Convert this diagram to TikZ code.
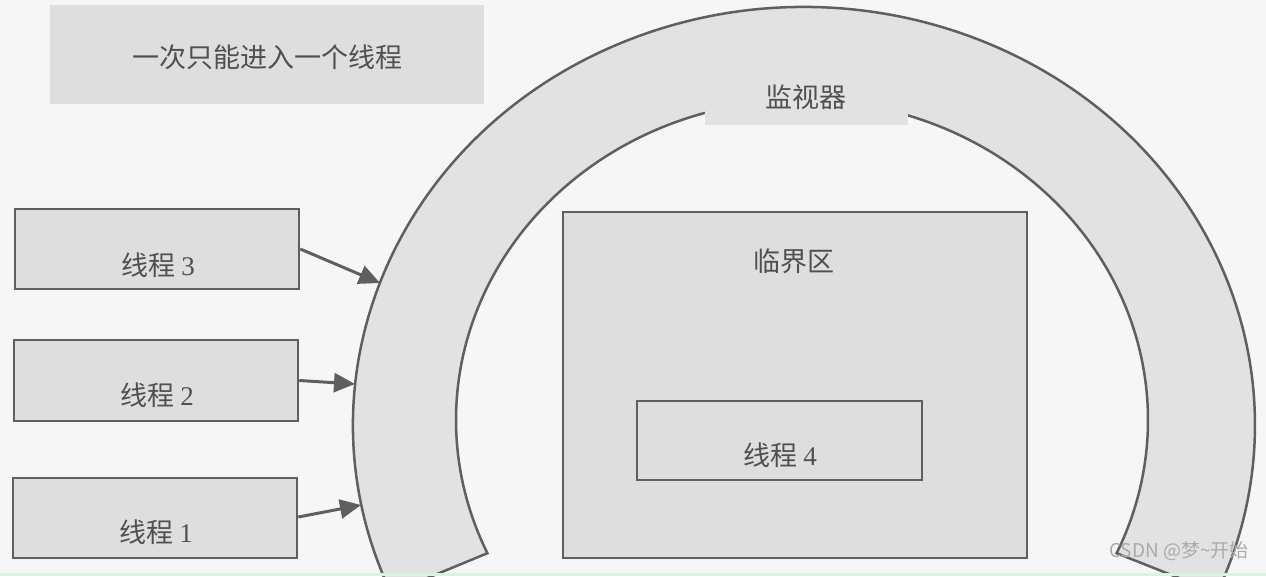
\documentclass[tikz,border=0pt]{standalone}
\usepackage{fontspec}
\setmainfont{Liberation Serif}
\newfontfamily\cjk{Noto Sans CJK SC}
\usetikzlibrary{arrows.meta}
\definecolor{bg}{RGB}{246,246,246}
\definecolor{bandc}{RGB}{226,226,226}
\definecolor{boxc}{RGB}{222,222,222}
\definecolor{linec}{RGB}{95,95,95}
\definecolor{txtc}{RGB}{80,80,80}
\definecolor{wmc}{RGB}{170,170,170}
\definecolor{stripc}{RGB}{220,242,220}
\begin{document}
\begin{tikzpicture}[x=1pt,y=1pt,
  tbox/.style={draw=linec, line width=2.5pt, fill=boxc, inner sep=0pt, minimum width=284pt, minimum height=80pt},
  lbl/.style={text=txtc, font=\fontsize{27}{30}\selectfont\cjk, inner sep=0pt},
  arr/.style={draw=linec, line width=3pt, -{Triangle[length=21pt,width=19pt]}},
  bandline/.style={draw=linec, line width=2.5pt, fill=bandc}]
\useasboundingbox (0,0) rectangle (1266,576);
\clip (0,0) rectangle (1266,576);
\fill[bg] (0,0) rectangle (1266,576);

% top-left note
\node[fill=boxc, inner sep=0pt, minimum width=434pt, minimum height=99pt] (note) at (267,521.5) {};
\node[lbl] (notetxt) at (267.5,519) {一次只能进入一个线程};

% monitor band
\path[bandline]
  ([shift={(802pt,156pt)}]106.3:346pt and 320pt)
  arc[start angle=106.3, end angle=204.6, x radius=346pt, y radius=320pt]
  -- ([shift={(804pt,151pt)}]203.7:451pt and 418pt)
  arc[start angle=203.7, end angle=-23.7, x radius=451pt, y radius=418pt]
  -- ([shift={(802pt,156pt)}]-24.6:346pt and 320pt)
  arc[start angle=-24.6, end angle=72.2, x radius=346pt, y radius=320pt];
\node[fill=bandc, inner sep=0pt, minimum width=203pt, minimum height=47pt] (monbox) at (806.5,474.5) {};
\node[lbl] (montxt) at (806,479) {监视器};

% arrow targets on the outer edge of the band
\coordinate (a3) at (380,293);
\coordinate (a2) at (355,192);
\coordinate (a1) at (361,71);

% critical section
\node[tbox, minimum width=464pt, minimum height=346pt] (crit) at (795,191) {};
\node[lbl] (crittxt) at (794,315) {临界区};
\node[tbox, minimum width=285pt, minimum height=79pt] (t4) at (779.5,135.5) {};
\node[lbl] (t4txt) at (780,121) {线程 {\rmfamily 4}};

% waiting threads
\node[tbox] (t3) at (157,327) {};
\node[lbl] (t3txt) at (158,311) {线程 {\rmfamily 3}};
\node[tbox, minimum height=81pt] (t2) at (156,195.5) {};
\node[lbl] (t2txt) at (157,181) {线程 {\rmfamily 2}};
\node[tbox] (t1) at (155,58) {};
\node[lbl] (t1txt) at (156,44) {线程 {\rmfamily 1}};

\draw[arr] (t3.east) -- (a3);
\draw[arr] (t2.east) -- (a2);
\draw[arr] ([yshift=1pt]t1.east) -- (a1);

% watermark and strip
\node[text=wmc, font=\fontsize{19}{19}\selectfont\cjk, inner sep=0pt] (wm) at (1179,25) {CSDN @梦\textasciitilde 开始};
\fill[stripc] (0,0) rectangle (1266,3);
\end{tikzpicture}
\end{document}
